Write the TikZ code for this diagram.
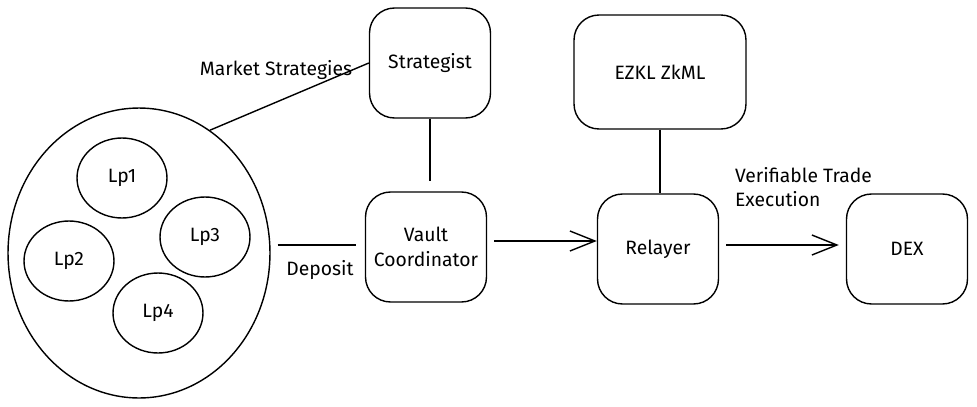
\documentclass[tikz,border=0pt]{standalone}
\usepackage{fontspec}
\setmainfont{Fira Sans}
\usetikzlibrary{arrows.meta,positioning,shapes.geometric}
\usepackage{xcolor}

\begin{document}
\begin{tikzpicture}[
            x=0.02cm, y=-0.02cm,
            font=\fontsize{11}{14}\selectfont,
            box/.style={rectangle, draw, rounded corners=0.5cm, align=center, minimum width=2.42cm, minimum height=2.2cm, inner sep=2pt, line width=0.8pt},
            pool/.style={ellipse, draw, minimum width=5.24cm, minimum height=5.8cm, line width=0.8pt},
            lpcircle/.style={ellipse, draw, minimum width=1.8cm, minimum height=1.6cm, line width=0.8pt},
            lbl/.style={align=left, inner sep=1pt},
            link/.style={line width=0.8pt},
            arrow/.style={-{Straight Barb[length=5mm,width=4mm]}, line width=0.8pt}
        ]
            \useasboundingbox (0,0) rectangle (977,406);

            % --- POOL ---
            \node[pool] (pool) at (139,253) {};
            \node[lpcircle] (lp1) at (122,178) {Lp1};
            \node[lpcircle] (lp2) at (69,261) {Lp2};
            \node[lpcircle] (lp3) at (205,237) {Lp3};
            \node[lpcircle] (lp4) at (158,313) {Lp4};

            % --- STRATEGIST / VAULT ---
            \node[box] (strategist) at (430,63) {Strategist};
            \node[box] (vault) at (426,247) {Vault\\Coordinator};

            % --- ZKML / RELAYER / DEX ---
            \node[box, minimum width=3.44cm, minimum height=2.28cm] (ezkl) at (660,72) {EZKL ZkML};
            \node[box] (relayer) at (658,249) {Relayer};
            \node[box] (dex) at (907,249) {DEX};

            % --- LABELS ---
            \node[lbl] (market) at (276,70) {Market Strategies};
            \node[lbl] (deposit) at (320,270) {Deposit};
            \node[lbl, anchor=west] (trade) at (733,187) {Verifiable Trade\\Execution};

            % --- LINKS ---
            \draw[link] (pool.60) -- (strategist.west);
            \draw[link] (strategist.south) -- ([yshift=6pt]strategist.south |- vault.north);
            \draw[link] ([xshift=4pt]pool.east |- 0,245) -- ([xshift=-5pt]vault.west |- 0,245);
            \draw[arrow] ([xshift=4pt]vault.east |- 0,241) -- (relayer.west |- 0,241);
            \draw[link] (ezkl.south) -- (ezkl.south |- relayer.north);
            \draw[arrow] ([xshift=4pt]relayer.east |- 0,245) -- ([xshift=-4pt]dex.west |- 0,245);

        \end{tikzpicture}
\end{document}
